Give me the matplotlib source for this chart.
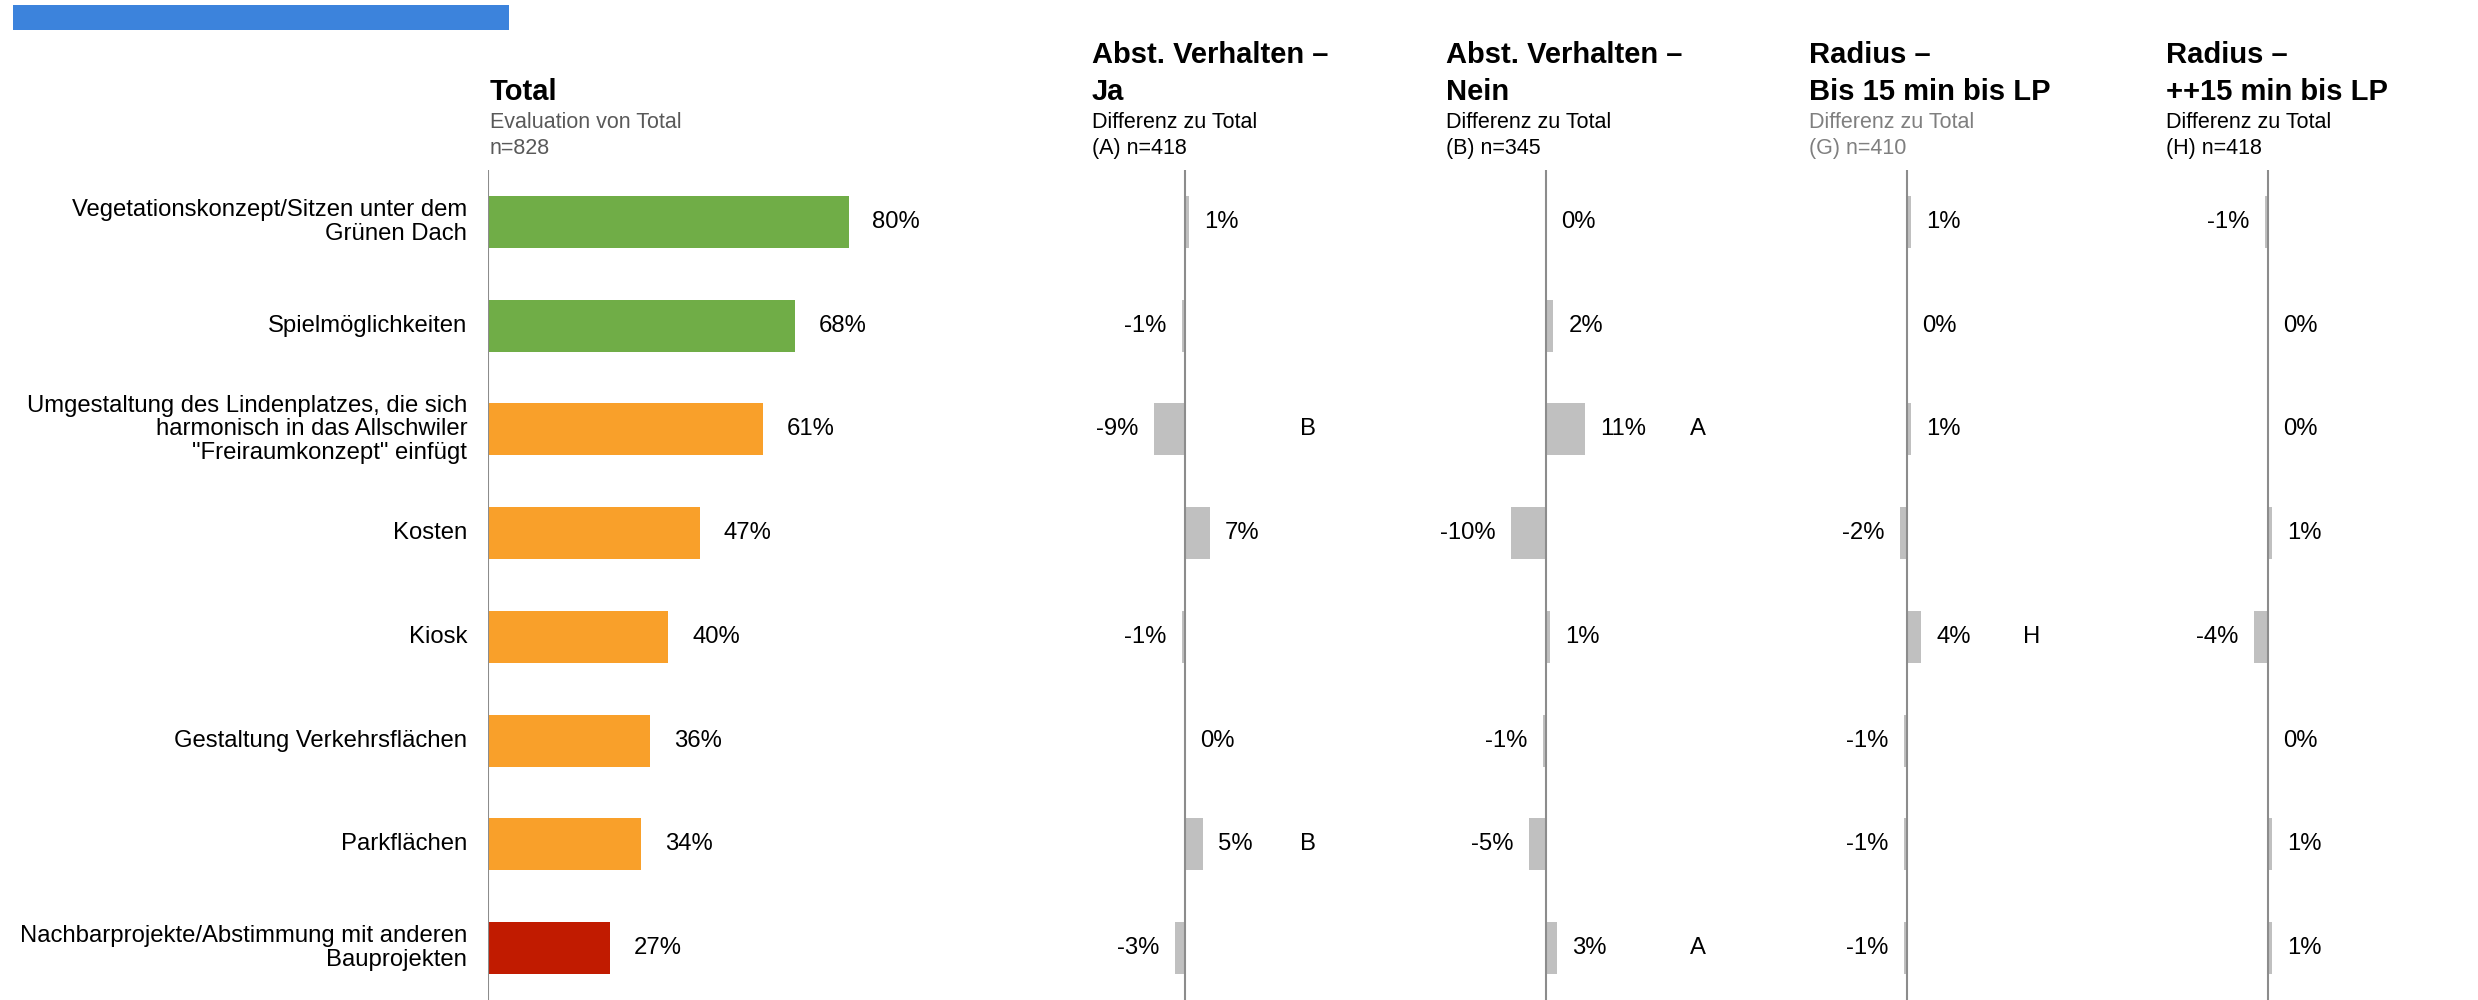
import matplotlib.pyplot as plt
from matplotlib.patches import Rectangle

plt.rcParams["font.family"] = ["Liberation Sans", "DejaVu Sans"]

# data
categories = [
    "Vegetationskonzept/Sitzen unter dem\nGrünen Dach",
    "Spielmöglichkeiten",
    "Umgestaltung des Lindenplatzes, die sich\nharmonisch in das Allschwiler\n\"Freiraumkonzept\" einfügt",
    "Kosten",
    "Kiosk",
    "Gestaltung Verkehrsflächen",
    "Parkflächen",
    "Nachbarprojekte/Abstimmung mit anderen\nBauprojekten",
]
total = [80, 68, 61, 47, 40, 36, 34, 27]
total_colors = ["#70AD47", "#70AD47", "#F9A02A", "#F9A02A", "#F9A02A", "#F9A02A", "#F9A02A", "#C11B00"]

diff_titles = [("Abst. Verhalten –", "Ja"), ("Abst. Verhalten –", "Nein"),
               ("Radius –", "Bis 15 min bis LP"), ("Radius –", "++15 min bis LP")]
diff_n = ["(A) n=418", "(B) n=345", "(G) n=410", "(H) n=418"]
diff_A = [1, -1, -9, 7, -1, 0, 5, -3]
diff_B = [0, 2, 11, -10, 1, -1, -5, 3]
diff_G = [1, 0, 1, -2, 4, -1, -1, -1]
diff_H = [-1, 0, 0, 1, -4, 0, 1, 1]
sig_A = ["", "", "B", "", "", "", "B", ""]
sig_B = ["", "", "A", "", "", "", "", "A"]
sig_G = ["", "", "", "", "H", "", "", ""]
sig_H = ["", "", "", "", "", "", "", ""]

W, H = 2478, 1000
fig = plt.figure(figsize=(W / 100, H / 100), dpi=100)


def fx(x):
    return x / W


def fy(y):
    return 1 - y / H


# blue bar top left
fig.patches.append(Rectangle((fx(13), fy(30)), fx(496), 25 / H, transform=fig.transFigure,
                             facecolor="#3C83DC", edgecolor="none"))

ax_top, ax_bot = 170, 1000
rows = list(range(len(categories)))

# Total panel
ax = fig.add_axes([fx(488), fy(ax_bot), 451 / W, (ax_bot - ax_top) / H])
ax.barh(rows, total, height=0.5, color=total_colors)
ax.set_xlim(0, 100)
ax.set_ylim(len(rows) - 0.5, -0.5)
ax.axis("off")
ax.axvline(0, color="#8C8C8C", lw=1.5)
for i, v in enumerate(total):
    ax.annotate(f"{v}%", (v, i), xytext=(17, 0), textcoords="offset points",
                va="center", ha="left", fontsize=17.2)
    ax.annotate(categories[i], (0, i), xytext=(-15, 0), textcoords="offset points",
                va="center", ha="right", fontsize=17.2, linespacing=1.1)

fig.text(fx(490), fy(100), "Total", fontsize=21, fontweight="bold", va="baseline")
fig.text(fx(490), fy(128), "Evaluation von Total", fontsize=15.5, color="#595959", va="baseline")
fig.text(fx(490), fy(154), "n=828", fontsize=15.5, color="#595959", va="baseline")

# difference panels
diffs = [diff_A, diff_B, diff_G, diff_H]
sigs = [sig_A, sig_B, sig_G, sig_H]
axis_x = [1185, 1546, 1907, 2268]
head_x = [1092, 1446, 1809, 2166]
sig_pos = [35, 43.5, 35.5, 35]
sub_colors = ["black", "black", "#7F7F7F", "black"]
px_per = 3.5
half = 30

for k in range(4):
    a = fig.add_axes([fx(axis_x[k] - half * px_per), fy(ax_bot), 2 * half * px_per / W,
                      (ax_bot - ax_top) / H])
    a.barh(rows, diffs[k], height=0.5, color="#C0C0C0")
    a.set_xlim(-half, half)
    a.set_ylim(len(rows) - 0.5, -0.5)
    a.axis("off")
    a.axvline(0, color="#8C8C8C", lw=1.5)
    for i, v in enumerate(diffs[k]):
        if v >= 0:
            a.annotate(f"{v}%", (v, i), xytext=(11, 0), textcoords="offset points",
                       va="center", ha="left", fontsize=17.2)
        else:
            a.annotate(f"{v}%", (v, i), xytext=(-11, 0), textcoords="offset points",
                       va="center", ha="right", fontsize=17.2)
        if sigs[k][i]:
            a.text(sig_pos[k], i, sigs[k][i], va="center", ha="center", fontsize=17.2)

    t1, t2 = diff_titles[k]
    fig.text(fx(head_x[k]), fy(63), t1, fontsize=21, fontweight="bold", va="baseline")
    fig.text(fx(head_x[k]), fy(100), t2, fontsize=21, fontweight="bold", va="baseline")
    fig.text(fx(head_x[k]), fy(128), "Differenz zu Total", fontsize=15.5,
             color=sub_colors[k], va="baseline")
    fig.text(fx(head_x[k]), fy(154), diff_n[k], fontsize=15.5,
             color=sub_colors[k], va="baseline")

fig.savefig("out.png", dpi=100, facecolor="white")
